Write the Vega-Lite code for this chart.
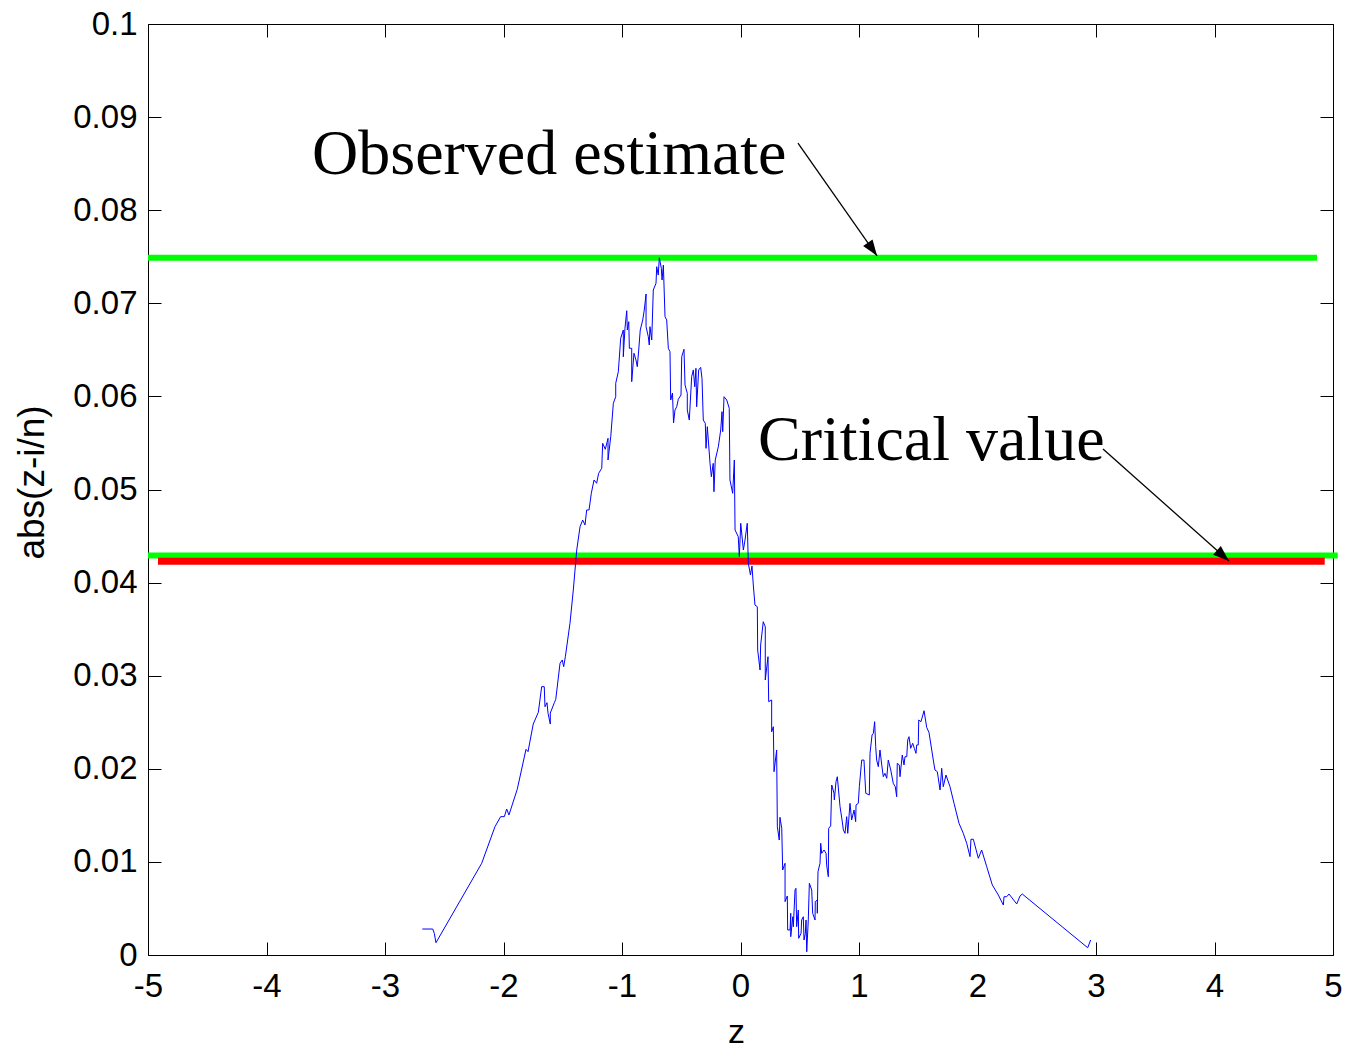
{
  "$schema": "https://vega.github.io/schema/vega-lite/v6.json",
  "autosize": "none",
  "width": 1185,
  "height": 931,
  "padding": {"left": 148, "top": 24, "right": 17, "bottom": 95},
  "background": "#ffffff",
  "config": {
    "view": {"stroke": null},
    "axis": {
      "grid": false,
      "domainColor": "#000000",
      "domainWidth": 1,
      "tickColor": "#000000",
      "tickWidth": 1,
      "labelColor": "#000000",
      "titleColor": "#000000",
      "labelFont": "Liberation Sans",
      "titleFont": "Liberation Sans",
      "labelFontSize": 33,
      "titleFontSize": 34,
      "titleFontWeight": "normal",
      "labelFlush": false,
      "labelOverlap": false
    }
  },
  "datasets": {
    "curve": [
      {"z": -2.685, "d": 0.00279}, {"z": -2.597, "d": 0.00279}, {"z": -2.584, "d": 0.00233}, {"z": -2.57, "d": 0.00132},
      {"z": -2.184, "d": 0.00985}, {"z": -2.072, "d": 0.01378}, {"z": -2.024, "d": 0.01486}, {"z": -1.993, "d": 0.01486},
      {"z": -1.973, "d": 0.01568}, {"z": -1.954, "d": 0.01504}, {"z": -1.884, "d": 0.0178}, {"z": -1.81, "d": 0.02209},
      {"z": -1.793, "d": 0.02184}, {"z": -1.749, "d": 0.02481}, {"z": -1.706, "d": 0.02607}, {"z": -1.678, "d": 0.02882},
      {"z": -1.656, "d": 0.02882}, {"z": -1.65, "d": 0.02667}, {"z": -1.633, "d": 0.0271}, {"z": -1.624, "d": 0.02596},
      {"z": -1.605, "d": 0.02481}, {"z": -1.605, "d": 0.02599}, {"z": -1.571, "d": 0.0271}, {"z": -1.559, "d": 0.02746},
      {"z": -1.523, "d": 0.03133}, {"z": -1.504, "d": 0.03169}, {"z": -1.492, "d": 0.03097}, {"z": -1.478, "d": 0.03204},
      {"z": -1.439, "d": 0.03563}, {"z": -1.411, "d": 0.0392}, {"z": -1.382, "d": 0.0435}, {"z": -1.354, "d": 0.046},
      {"z": -1.332, "d": 0.04672}, {"z": -1.312, "d": 0.04619}, {"z": -1.298, "d": 0.0478}, {"z": -1.278, "d": 0.0478},
      {"z": -1.259, "d": 0.04959}, {"z": -1.236, "d": 0.05102}, {"z": -1.214, "d": 0.05067}, {"z": -1.197, "d": 0.05174},
      {"z": -1.171, "d": 0.05228}, {"z": -1.163, "d": 0.05496}, {"z": -1.141, "d": 0.05432}, {"z": -1.118, "d": 0.0555},
      {"z": -1.118, "d": 0.05317}, {"z": -1.095, "d": 0.05567}, {"z": -1.073, "d": 0.05926}, {"z": -1.053, "d": 0.05997},
      {"z": -1.053, "d": 0.06141}, {"z": -1.031, "d": 0.06265}, {"z": -1.011, "d": 0.06624}, {"z": -0.989, "d": 0.06713},
      {"z": -0.989, "d": 0.06426}, {"z": -0.975, "d": 0.06731}, {"z": -0.96, "d": 0.0692}, {"z": -0.955, "d": 0.06713},
      {"z": -0.943, "d": 0.06802}, {"z": -0.938, "d": 0.06517}, {"z": -0.918, "d": 0.06517}, {"z": -0.918, "d": 0.06158},
      {"z": -0.899, "d": 0.06463}, {"z": -0.882, "d": 0.06391}, {"z": -0.871, "d": 0.06319}, {"z": -0.859, "d": 0.06498},
      {"z": -0.846, "d": 0.06713}, {"z": -0.825, "d": 0.06821}, {"z": -0.812, "d": 0.06928}, {"z": -0.797, "d": 0.071},
      {"z": -0.797, "d": 0.06749}, {"z": -0.778, "d": 0.06641}, {"z": -0.77, "d": 0.06552}, {"z": -0.764, "d": 0.06749},
      {"z": -0.749, "d": 0.06606}, {"z": -0.736, "d": 0.07143}, {"z": -0.713, "d": 0.07215}, {"z": -0.707, "d": 0.07393},
      {"z": -0.694, "d": 0.07304}, {"z": -0.685, "d": 0.0749}, {"z": -0.668, "d": 0.07376}, {"z": -0.662, "d": 0.0725},
      {"z": -0.651, "d": 0.07411}, {"z": -0.637, "d": 0.06856}, {"z": -0.623, "d": 0.06821}, {"z": -0.609, "d": 0.06517},
      {"z": -0.595, "d": 0.0648}, {"z": -0.589, "d": 0.05961}, {"z": -0.574, "d": 0.06036}, {"z": -0.565, "d": 0.05714},
      {"z": -0.553, "d": 0.05854}, {"z": -0.538, "d": 0.05889}, {"z": -0.525, "d": 0.05969}, {"z": -0.502, "d": 0.06015},
      {"z": -0.496, "d": 0.06426}, {"z": -0.477, "d": 0.06506}, {"z": -0.468, "d": 0.06122}, {"z": -0.449, "d": 0.06033},
      {"z": -0.449, "d": 0.05854}, {"z": -0.432, "d": 0.05746}, {"z": -0.412, "d": 0.06212}, {"z": -0.398, "d": 0.06284},
      {"z": -0.386, "d": 0.06104}, {"z": -0.376, "d": 0.06302}, {"z": -0.37, "d": 0.05889}, {"z": -0.353, "d": 0.06284},
      {"z": -0.336, "d": 0.06312}, {"z": -0.325, "d": 0.06194}, {"z": -0.314, "d": 0.05746}, {"z": -0.297, "d": 0.05711},
      {"z": -0.291, "d": 0.05442}, {"z": -0.28, "d": 0.05675}, {"z": -0.257, "d": 0.05281}, {"z": -0.246, "d": 0.05137},
      {"z": -0.23, "d": 0.05281}, {"z": -0.224, "d": 0.04976}, {"z": -0.213, "d": 0.05317}, {"z": -0.187, "d": 0.0546},
      {"z": -0.167, "d": 0.05639}, {"z": -0.156, "d": 0.05836}, {"z": -0.15, "d": 0.05621}, {"z": -0.139, "d": 0.05997},
      {"z": -0.116, "d": 0.05961}, {"z": -0.095, "d": 0.05872}, {"z": -0.089, "d": 0.05102}, {"z": -0.066, "d": 0.04959},
      {"z": -0.052, "d": 0.05317}, {"z": -0.046, "d": 0.04565}, {"z": -0.019, "d": 0.04493}, {"z": -0.01, "d": 0.04278},
      {"z": 0.002, "d": 0.04637}, {"z": 0.024, "d": 0.0435}, {"z": 0.038, "d": 0.04457}, {"z": 0.057, "d": 0.04637},
      {"z": 0.066, "d": 0.04207}, {"z": 0.084, "d": 0.04082}, {"z": 0.097, "d": 0.04178}, {"z": 0.108, "d": 0.03974},
      {"z": 0.122, "d": 0.03759}, {"z": 0.142, "d": 0.03741}, {"z": 0.145, "d": 0.03276}, {"z": 0.165, "d": 0.03061},
      {"z": 0.17, "d": 0.0333}, {"z": 0.192, "d": 0.0358}, {"z": 0.209, "d": 0.03526}, {"z": 0.209, "d": 0.02954},
      {"z": 0.232, "d": 0.03204}, {"z": 0.238, "d": 0.02721}, {"z": 0.263, "d": 0.02739}, {"z": 0.263, "d": 0.02398},
      {"z": 0.277, "d": 0.02452}, {"z": 0.283, "d": 0.01969}, {"z": 0.305, "d": 0.02202}, {"z": 0.311, "d": 0.01378},
      {"z": 0.327, "d": 0.01235}, {"z": 0.333, "d": 0.01479}, {"z": 0.348, "d": 0.01361}, {"z": 0.356, "d": 0.00913},
      {"z": 0.376, "d": 0.00985}, {"z": 0.376, "d": 0.00573}, {"z": 0.395, "d": 0.00634}, {"z": 0.398, "d": 0.00269},
      {"z": 0.418, "d": 0.00269}, {"z": 0.424, "d": 0.00448}, {"z": 0.424, "d": 0.00197}, {"z": 0.441, "d": 0.00411},
      {"z": 0.446, "d": 0.00304}, {"z": 0.46, "d": 0.00698}, {"z": 0.468, "d": 0.00716}, {"z": 0.474, "d": 0.00304},
      {"z": 0.488, "d": 0.00483}, {"z": 0.491, "d": 0.00179}, {"z": 0.511, "d": 0.00233}, {"z": 0.516, "d": 0.00376},
      {"z": 0.53, "d": 0.00411}, {"z": 0.536, "d": 0.00161}, {"z": 0.547, "d": 0.00233}, {"z": 0.553, "d": 0.00376},
      {"z": 0.559, "d": 0.00035}, {"z": 0.572, "d": 0.00376}, {"z": 0.581, "d": 0.0077}, {"z": 0.601, "d": 0.00698},
      {"z": 0.609, "d": 0.00448}, {"z": 0.629, "d": 0.00376}, {"z": 0.631, "d": 0.00573}, {"z": 0.648, "d": 0.00591},
      {"z": 0.648, "d": 0.00448}, {"z": 0.654, "d": 0.00895}, {"z": 0.671, "d": 0.00985}, {"z": 0.677, "d": 0.012},
      {"z": 0.685, "d": 0.01092}, {"z": 0.705, "d": 0.01128}, {"z": 0.722, "d": 0.01092}, {"z": 0.727, "d": 0.00967},
      {"z": 0.741, "d": 0.00841}, {"z": 0.744, "d": 0.01361}, {"z": 0.761, "d": 0.01386}, {"z": 0.77, "d": 0.01826},
      {"z": 0.789, "d": 0.01737}, {"z": 0.792, "d": 0.01665}, {"z": 0.806, "d": 0.01861}, {"z": 0.817, "d": 0.01915},
      {"z": 0.84, "d": 0.01593}, {"z": 0.857, "d": 0.0145}, {"z": 0.868, "d": 0.01343}, {"z": 0.882, "d": 0.01307},
      {"z": 0.896, "d": 0.01486}, {"z": 0.905, "d": 0.01307}, {"z": 0.924, "d": 0.01629}, {"z": 0.938, "d": 0.0145},
      {"z": 0.958, "d": 0.01557}, {"z": 0.972, "d": 0.01432}, {"z": 0.975, "d": 0.01611}, {"z": 0.994, "d": 0.01629},
      {"z": 1.003, "d": 0.01808}, {"z": 1.023, "d": 0.02094}, {"z": 1.042, "d": 0.02094}, {"z": 1.057, "d": 0.01737},
      {"z": 1.087, "d": 0.01719}, {"z": 1.093, "d": 0.02166}, {"z": 1.11, "d": 0.02363}, {"z": 1.121, "d": 0.02381},
      {"z": 1.132, "d": 0.02506}, {"z": 1.141, "d": 0.02237}, {"z": 1.149, "d": 0.02094}, {"z": 1.163, "d": 0.02023},
      {"z": 1.177, "d": 0.02202}, {"z": 1.192, "d": 0.02041}, {"z": 1.205, "d": 0.01915}, {"z": 1.219, "d": 0.01952},
      {"z": 1.234, "d": 0.01898}, {"z": 1.247, "d": 0.02094}, {"z": 1.268, "d": 0.01987}, {"z": 1.289, "d": 0.01844},
      {"z": 1.306, "d": 0.01808}, {"z": 1.318, "d": 0.017}, {"z": 1.323, "d": 0.02059}, {"z": 1.34, "d": 0.02041},
      {"z": 1.346, "d": 0.01915}, {"z": 1.365, "d": 0.02148}, {"z": 1.38, "d": 0.02041}, {"z": 1.388, "d": 0.0213},
      {"z": 1.403, "d": 0.0213}, {"z": 1.411, "d": 0.02309}, {"z": 1.422, "d": 0.02345}, {"z": 1.436, "d": 0.0222},
      {"z": 1.453, "d": 0.02274}, {"z": 1.467, "d": 0.0222}, {"z": 1.481, "d": 0.02166}, {"z": 1.487, "d": 0.02256},
      {"z": 1.5, "d": 0.02256}, {"z": 1.504, "d": 0.02524}, {"z": 1.523, "d": 0.02506}, {"z": 1.549, "d": 0.02624},
      {"z": 1.571, "d": 0.02446}, {"z": 1.591, "d": 0.02388}, {"z": 1.627, "d": 0.02094}, {"z": 1.641, "d": 0.01987},
      {"z": 1.661, "d": 0.01969}, {"z": 1.684, "d": 0.01772}, {"z": 1.698, "d": 0.02005}, {"z": 1.711, "d": 0.01808},
      {"z": 1.734, "d": 0.01933}, {"z": 1.768, "d": 0.01808}, {"z": 1.802, "d": 0.01629}, {"z": 1.844, "d": 0.01415},
      {"z": 1.88, "d": 0.01307}, {"z": 1.909, "d": 0.012}, {"z": 1.937, "d": 0.01056}, {"z": 1.945, "d": 0.01243},
      {"z": 1.965, "d": 0.01243}, {"z": 2.007, "d": 0.01039}, {"z": 2.035, "d": 0.01128}, {"z": 2.078, "d": 0.00948},
      {"z": 2.125, "d": 0.00752}, {"z": 2.176, "d": 0.00644}, {"z": 2.218, "d": 0.00537}, {"z": 2.224, "d": 0.00626},
      {"z": 2.246, "d": 0.00626}, {"z": 2.266, "d": 0.00655}, {"z": 2.331, "d": 0.00548}, {"z": 2.359, "d": 0.00634},
      {"z": 2.378, "d": 0.00655}, {"z": 2.93, "d": 0.00078}, {"z": 2.955, "d": 0.00161}
    ],
    "refs": [
      {"name": "observed", "z": -5, "d": 0.0749},
      {"name": "observed", "z": 4.865, "d": 0.0749},
      {"name": "bound", "z": -5, "d": 0.0429},
      {"name": "bound", "z": 5.04, "d": 0.0429},
      {"name": "critical", "z": -4.916, "d": 0.0423},
      {"name": "critical", "z": 4.93, "d": 0.0423}
    ],
    "notes": [
      {"label": "Observed estimate", "tz": -3.616, "td": 0.0839, "z0": 0.485, "d0": 0.0872, "z1": 1.152, "d1": 0.0751},
      {"label": "Critical value", "tz": 0.148, "td": 0.05317, "z0": 3.059, "d0": 0.05435, "z1": 4.122, "d1": 0.04232}
    ]
  },
  "resolve": {"axis": {"x": "independent", "y": "independent"}},
  "layer": [
    {
      "data": {"name": "refs"},
      "transform": [{"filter": "datum.name === 'observed'"}],
      "mark": {"type": "line", "color": "#00ff00", "strokeWidth": 6, "strokeCap": "butt", "clip": false},
      "encoding": {
        "x": {"field": "z", "type": "quantitative", "scale": {"domain": [-5, 5], "nice": false, "zero": false},
          "axis": {"orient": "top", "values": [-5, -4, -3, -2, -1, 0, 1, 2, 3, 4, 5], "labels": false, "title": null, "tickSize": -13}},
        "y": {"field": "d", "type": "quantitative", "scale": {"domain": [0, 0.1], "nice": false, "zero": false},
          "axis": {"orient": "right", "values": [0, 0.01, 0.02, 0.03, 0.04, 0.05, 0.06, 0.07, 0.08, 0.09, 0.1], "labels": false, "title": null, "tickSize": -13}}
      }
    },
    {
      "data": {"name": "refs"},
      "transform": [{"filter": "datum.name === 'bound'"}],
      "mark": {"type": "line", "color": "#00ff00", "strokeWidth": 6, "strokeCap": "butt", "clip": false},
      "encoding": {
        "x": {"field": "z", "type": "quantitative", "axis": null},
        "y": {"field": "d", "type": "quantitative", "axis": null}
      }
    },
    {
      "data": {"name": "refs"},
      "transform": [{"filter": "datum.name === 'critical'"}],
      "mark": {"type": "line", "color": "#ff0000", "strokeWidth": 7, "strokeCap": "butt", "clip": false},
      "encoding": {
        "x": {"field": "z", "type": "quantitative", "axis": null},
        "y": {"field": "d", "type": "quantitative", "axis": null}
      }
    },
    {
      "data": {"name": "curve"},
      "mark": {"type": "line", "color": "#0000ff", "strokeWidth": 1, "strokeJoin": "miter"},
      "encoding": {
        "order": {"value": null},
        "x": {"field": "z", "type": "quantitative", "scale": {"domain": [-5, 5], "nice": false, "zero": false},
          "axis": {"orient": "bottom", "values": [-5, -4, -3, -2, -1, 0, 1, 2, 3, 4, 5], "tickSize": -13, "labelPadding": 28,
            "labelExpr": "(datum.value < 0 ? '-' : '') + abs(datum.value)",
            "title": "z", "titleX": 588, "titleY": 87, "titleBaseline": "alphabetic", "titleAlign": "center"}},
        "y": {"field": "d", "type": "quantitative", "scale": {"domain": [0, 0.1], "nice": false, "zero": false},
          "axis": {"orient": "left", "values": [0, 0.01, 0.02, 0.03, 0.04, 0.05, 0.06, 0.07, 0.08, 0.09, 0.1], "tickSize": -13, "labelPadding": 24,
            "labelExpr": "format(datum.value, '.2~f')",
            "title": "abs(z-i/n)", "titleFontSize": 37, "titleX": -105, "titleY": 458, "titleAngle": -90, "titleBaseline": "alphabetic", "titleAlign": "center"}}
      }
    },
    {
      "data": {"name": "notes"},
      "mark": {"type": "rule", "color": "#000000", "strokeWidth": 1.3},
      "encoding": {
        "x": {"field": "z0", "type": "quantitative", "axis": null},
        "y": {"field": "d0", "type": "quantitative", "axis": null},
        "x2": {"field": "z1"},
        "y2": {"field": "d1"}
      }
    },
    {
      "data": {"name": "notes"},
      "transform": [{"filter": "datum.label === 'Observed estimate'"}],
      "mark": {"type": "point", "shape": "M0,0L0.36,1L-0.36,1Z", "filled": true, "color": "#000000", "opacity": 1, "size": 1024, "angle": 145},
      "encoding": {
        "x": {"field": "z1", "type": "quantitative", "axis": null},
        "y": {"field": "d1", "type": "quantitative", "axis": null}
      }
    },
    {
      "data": {"name": "notes"},
      "transform": [{"filter": "datum.label === 'Critical value'"}],
      "mark": {"type": "point", "shape": "M0,0L0.36,1L-0.36,1Z", "filled": true, "color": "#000000", "opacity": 1, "size": 1024, "angle": 131.6},
      "encoding": {
        "x": {"field": "z1", "type": "quantitative", "axis": null},
        "y": {"field": "d1", "type": "quantitative", "axis": null}
      }
    },
    {
      "data": {"name": "notes"},
      "mark": {"type": "text", "font": "Liberation Serif", "fontSize": 64, "align": "left", "baseline": "alphabetic", "color": "#000000"},
      "encoding": {
        "x": {"field": "tz", "type": "quantitative", "axis": null},
        "y": {"field": "td", "type": "quantitative", "axis": null},
        "text": {"field": "label"}
      }
    }
  ]
}
